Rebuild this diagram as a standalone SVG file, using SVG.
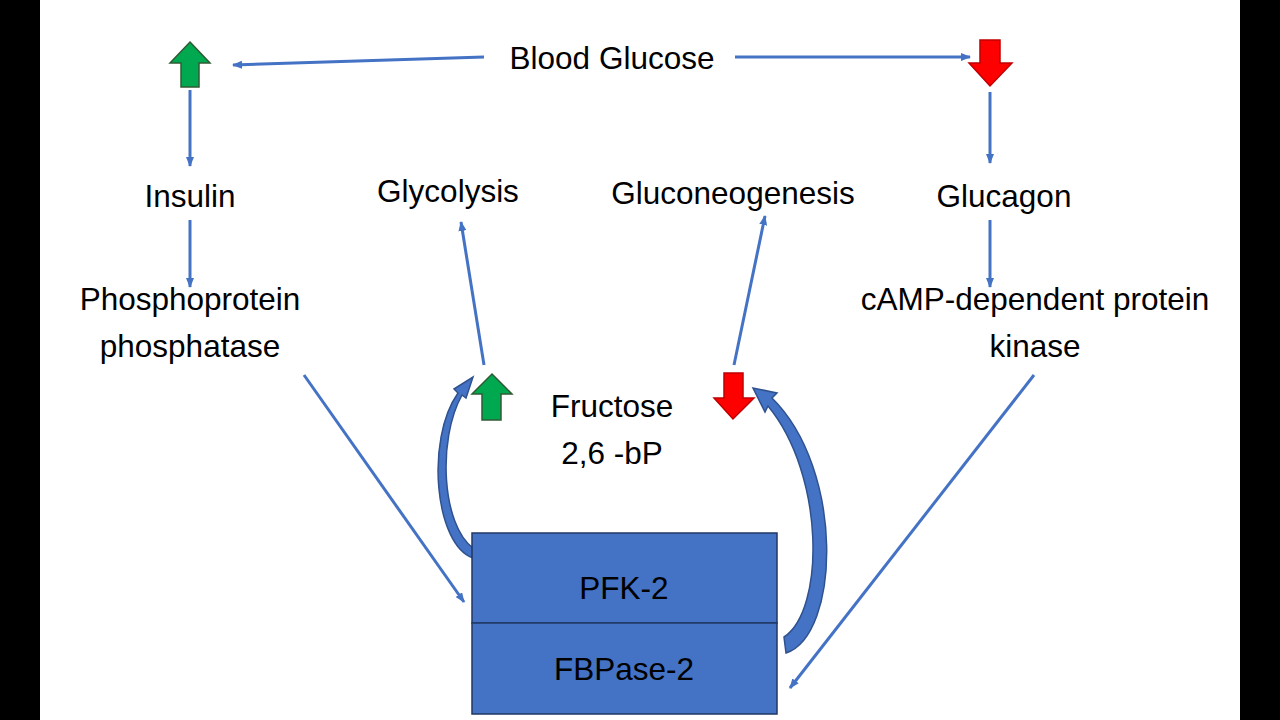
<svg xmlns="http://www.w3.org/2000/svg" width="1280" height="720" viewBox="0 0 1280 720">
<defs>
<marker id="ah" markerWidth="10" markerHeight="8" refX="9" refY="4" orient="auto" markerUnits="userSpaceOnUse"><path d="M0,0 L10,4 L0,8 Z" fill="#4472C4"/></marker>
<style>
.t{font-family:"Liberation Sans",Arial,sans-serif;font-size:31.5px;fill:#000;text-anchor:middle}
.c{stroke:#4472C4;stroke-width:3;fill:none;marker-end:url(#ah)}
.g{fill:#00A850;stroke:#2F5B33;stroke-width:1.5}
.r{fill:#FF0000;stroke:#C00000;stroke-width:1.5}
.cv{fill:#4472C4;stroke:#2F528F;stroke-width:1.5}
</style>
</defs>
<rect width="1280" height="720" fill="#fff"/>
<rect x="0" y="0" width="40" height="720" fill="#000"/>
<rect x="1240" y="0" width="40" height="720" fill="#000"/>
<g id="connectors">
<line class="c" x1="484" y1="57" x2="233" y2="65"/>
<line class="c" x1="735" y1="57" x2="970" y2="57"/>
<line class="c" x1="190" y1="90" x2="190" y2="166"/>
<line class="c" x1="190" y1="220" x2="190" y2="287"/>
<line class="c" x1="990" y1="92" x2="990" y2="163"/>
<line class="c" x1="990" y1="220" x2="990" y2="287"/>
<line class="c" x1="484" y1="365" x2="461" y2="222"/>
<line class="c" x1="734" y1="365" x2="765" y2="216"/>
<line class="c" x1="304" y1="375" x2="464" y2="602"/>
<line class="c" x1="1034" y1="375" x2="790" y2="688"/>
<path class="cv" d="M473,558 C435,545 425,440 458,393 L454,389 L473,377 L466,398 L462,395 C437,440 442,525 473,548 Z"/>
<path class="cv" d="M786,653 C840,635 845,470 772,398 L777,393 L753,388 L765,412 L768,406 C825,475 825,610 784,637 Z"/>
</g>
<g id="blood-glucose"><text class="t" x="612" y="69">Blood Glucose</text></g>
<g id="up-arrow-bg"><path class="g" d="M190,42 L210,63 L199,63 L199,87 L181,87 L181,63 L170,63 Z"/></g>
<g id="down-arrow-bg"><path class="r" d="M980,40 L1000,40 L1000,63 L1012,63 L990,86 L969,63 L980,63 Z"/></g>
<g id="insulin"><text class="t" x="190" y="207">Insulin</text></g>
<g id="glucagon"><text class="t" x="1004" y="207">Glucagon</text></g>
<g id="glycolysis"><text class="t" x="448" y="202">Glycolysis</text></g>
<g id="gluconeogenesis"><text class="t" x="733" y="204">Gluconeogenesis</text></g>
<g id="phosphatase"><text class="t" x="190" y="310">Phosphoprotein</text><text class="t" x="190" y="357">phosphatase</text></g>
<g id="kinase"><text class="t" x="1035" y="310">cAMP-dependent protein</text><text class="t" x="1035" y="357">kinase</text></g>
<g id="fructose"><text class="t" x="612" y="417">Fructose</text><text class="t" x="612" y="464">2,6 -bP</text></g>
<g id="up-arrow-f"><path class="g" d="M492,374 L512,394 L501,394 L501,420 L482,420 L482,394 L472,394 Z"/></g>
<g id="down-arrow-f"><path class="r" d="M724,373 L743,373 L743,398 L754,398 L733,419 L714,398 L724,398 Z"/></g>
<g id="pfk2"><rect x="472" y="533" width="305" height="90" fill="#4472C4" stroke="#1F3864" stroke-width="1.5"/><text class="t" x="624" y="599">PFK-2</text></g>
<g id="fbpase2"><rect x="472" y="623" width="305" height="91" fill="#4472C4" stroke="#1F3864" stroke-width="1.5"/><text class="t" x="624" y="680">FBPase-2</text></g>
</svg>
